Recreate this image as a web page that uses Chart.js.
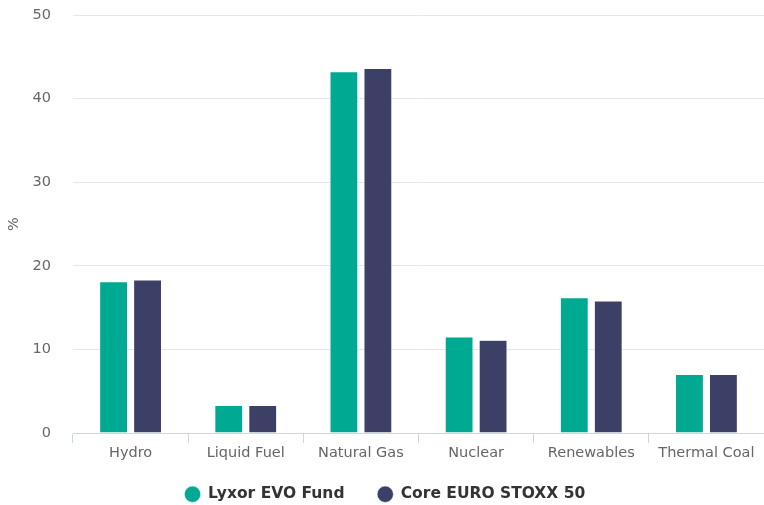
<!DOCTYPE html>
<html>
<head>
<meta charset="utf-8">
<script src="https://cdn.jsdelivr.net/npm/chart.js@4"></script>
<style>
    html, body { margin: 0; padding: 0; background: #fff; }
    #wrap { width: 764px; height: 505px; }
</style>
</head>
<body>
<div id="wrap"><canvas id="chart" width="764" height="505"></canvas></div>
<script>
const categories = ['Hydro', 'Liquid Fuel', 'Natural Gas', 'Nuclear', 'Renewables', 'Thermal Coal'];
const fundValues = [18.1, 3.3, 43.2, 11.5, 16.2, 7.0];
const indexValues = [18.3, 3.3, 43.6, 11.1, 15.8, 7.0];
const seriesNames = ['Lyxor EVO Fund', 'Core EURO STOXX 50'];
const yTicks = [0, 10, 20, 30, 40, 50];

const font = "'DejaVu Sans', sans-serif";

const chart = new Chart(document.getElementById('chart'), {
    type: 'bar',
    data: {
        labels: categories,
        datasets: [{
            label: seriesNames[0],
            data: fundValues,
            backgroundColor: '#00a991',
            borderColor: '#fff',
            borderWidth: 0.5
        }, {
            label: seriesNames[1],
            data: indexValues,
            backgroundColor: '#3c3f66',
            borderColor: '#fff',
            borderWidth: 0.5
        }]
    },
    options: {
        responsive: false,
        animation: false,
        categoryPercentage: 0.59,
        barPercentage: 0.82,
        layout: {
            padding: { top: 15, left: 6, right: 0, bottom: 0 }
        },
        plugins: {
            tooltip: { enabled: false },
            legend: {
                position: 'bottom',
                maxHeight: 42.5,
                labels: {
                    usePointStyle: true,
                    pointStyle: 'circle',
                    boxHeight: 11.5,
                    padding: 33,
                    color: '#333',
                    font: { family: font, size: 15.5, weight: 'bold' }
                }
            }
        },
        scales: {
            y: {
                min: 0,
                max: 50,
                afterBuildTicks: axis => {
                    axis.ticks = yTicks.map(v => ({ value: v }));
                },
                // fixed gutter for the % title and tick labels
                afterFit: axis => {
                    axis.width = 67;
                    axis.paddingTop = 0;
                },
                border: { display: false },
                grid: { color: '#e6e6e6', drawTicks: false },
                ticks: {
                    color: '#666',
                    padding: 22,
                    font: { family: font, size: 14.5 }
                },
                title: {
                    display: true,
                    text: '%',
                    color: '#666',
                    padding: { top: 0, bottom: 8 },
                    font: { family: font, size: 14.5 }
                }
            },
            x: {
                border: { color: '#ccd6eb', width: 1 },
                grid: {
                    offset: true,
                    drawOnChartArea: false,
                    tickLength: 10,
                    color: '#ccd6eb'
                },
                ticks: {
                    color: '#666',
                    padding: 1,
                    font: { family: font, size: 14.5 }
                }
            }
        }
    },
    plugins: [{
        // wide item spacing pushes the legend row too low, pull it back up
        afterLayout: chart => {
            chart.legend.top -= 9;
        }
    }]
});
</script>
</body>
</html>
